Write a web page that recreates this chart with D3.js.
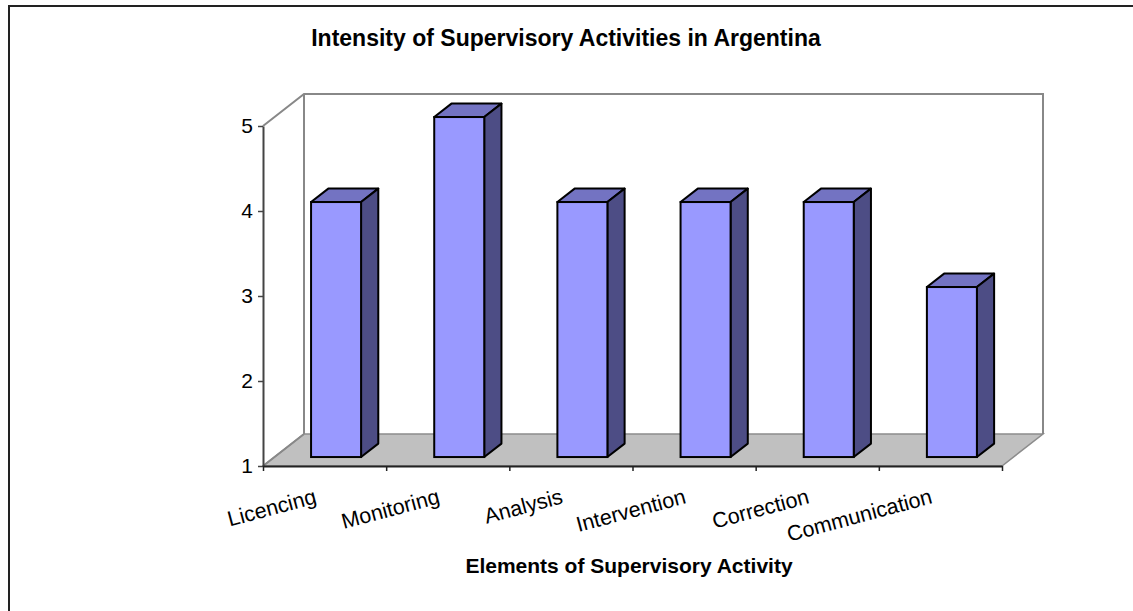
<!DOCTYPE html>
<html>
<head>
<meta charset="utf-8">
<script src="https://cdn.jsdelivr.net/npm/d3@7"></script>
<style>
  html, body { margin: 0; padding: 0; background: #fff; }
  svg { display: block; font-family: "Liberation Sans", Arial, sans-serif; }
</style>
</head>
<body>
<svg id="chart" width="1133" height="611"></svg>
<script>
// Chart data
const categories = ["Licencing", "Monitoring", "Analysis", "Intervention", "Correction", "Communication"];
const intensity = [4, 5, 4, 4, 4, 3];
const yTicks = [1, 2, 3, 4, 5];
const chartTitle = "Intensity of Supervisory Activities in Argentina";
const xTitle = "Elements of Supervisory Activity";

const svg = d3.select("#chart");

// Front plane of the 3-D plot and the depth offset to the back wall
const plotLeft = 263, plotRight = 1002, plotBottom = 466, plotTop = 126;
const DX = 41, DY = 32;
const f1 = 0.28, f2 = 0.70;   // bar front / back depth fractions

const x = d3.scaleBand().domain(categories).range([plotLeft, plotRight]).paddingInner(0).paddingOuter(0);
const xEdges = d3.scaleLinear().domain([0, categories.length]).range([plotLeft, plotRight]);
const y = d3.scaleLinear().domain([1, 5]).range([plotBottom, plotTop]);

// Outer chart border
svg.append("rect")
  .attr("x", 9).attr("y", 6).attr("width", 1150).attr("height", 640)
  .attr("fill", "none").attr("stroke", "#222").attr("stroke-width", 2);

// Title
svg.append("text")
  .attr("x", 566).attr("y", 46)
  .attr("text-anchor", "middle")
  .attr("font-weight", "bold").attr("font-size", 23)
  .text(chartTitle);

// Floor
const floorPts = [[plotLeft, plotBottom], [plotRight, plotBottom], [plotRight + DX, plotBottom - DY], [plotLeft + DX, plotBottom - DY]];
svg.append("polygon")
  .attr("points", floorPts.map(p => p.join(",")).join(" "))
  .attr("fill", "#c0c0c0").attr("stroke", "#8c8c8c").attr("stroke-width", 1.5);

// Back wall outline
const wall = d3.path();
wall.moveTo(plotLeft, y(5));
wall.lineTo(plotLeft + DX, y(5) - DY);
wall.lineTo(plotRight + DX, y(5) - DY);
wall.lineTo(plotRight + DX, plotBottom - DY);
wall.moveTo(plotLeft + DX, y(5) - DY);
wall.lineTo(plotLeft + DX, plotBottom - DY);
wall.moveTo(plotLeft, plotBottom);
wall.lineTo(plotLeft + DX, plotBottom - DY);
svg.append("path").attr("d", wall.toString())
  .attr("fill", "none").attr("stroke", "#888").attr("stroke-width", 2);

// Value axis
const yAxis = svg.append("g")
  .attr("transform", `translate(${plotLeft},0)`)
  .call(d3.axisLeft(y).tickValues(yTicks).tickFormat(d3.format("d")).tickSize(5).tickSizeOuter(0).tickPadding(5));
yAxis.select(".domain").attr("stroke", "#444").attr("stroke-width", 2);
yAxis.selectAll(".tick line").attr("stroke", "#444").attr("stroke-width", 1.5);
yAxis.selectAll(".tick text").attr("font-size", 21).attr("font-family", "Liberation Sans, Arial, sans-serif").attr("fill", "#000");

// Category axis (ticks on category boundaries)
const xAxis = svg.append("g")
  .attr("transform", `translate(0,${plotBottom})`)
  .call(d3.axisBottom(xEdges).tickValues(d3.range(categories.length + 1)).tickFormat("").tickSize(5).tickSizeOuter(0));
xAxis.select(".domain").attr("stroke", "#222").attr("stroke-width", 2);
xAxis.selectAll(".tick line").attr("stroke", "#222").attr("stroke-width", 1.5);

// Bars as 3-D columns
const barW = x.bandwidth() * 0.406;
const ddx = (f2 - f1) * DX, ddy = (f2 - f1) * DY;
const bars = svg.append("g").selectAll("g").data(categories).join("g");

bars.each(function(c, i) {
  const g = d3.select(this);
  const x0 = x(c) + x.bandwidth() / 2 - barW / 2 + f1 * DX;
  const x1 = x0 + barW;
  const yT = y(intensity[i]) - f1 * DY;
  const yB = y(1) - f1 * DY;
  const poly = pts => pts.map(p => p.join(",")).join(" ");
  // top face
  g.append("polygon")
    .attr("points", poly([[x0, yT], [x1, yT], [x1 + ddx, yT - ddy], [x0 + ddx, yT - ddy]]))
    .attr("fill", "#7373c2").attr("stroke", "#000").attr("stroke-width", 2).attr("stroke-linejoin", "round");
  // side face
  g.append("polygon")
    .attr("points", poly([[x1, yT], [x1 + ddx, yT - ddy], [x1 + ddx, yB - ddy], [x1, yB]]))
    .attr("fill", "#4d4d85").attr("stroke", "#000").attr("stroke-width", 2).attr("stroke-linejoin", "round");
  // front face
  g.append("rect")
    .attr("x", x0).attr("y", yT).attr("width", barW).attr("height", yB - yT)
    .attr("fill", "#9999ff").attr("stroke", "#000").attr("stroke-width", 2);
});

// Category labels, slanted
svg.append("g").selectAll("text").data(categories).join("text")
  .attr("text-anchor", "end")
  .attr("font-size", 21.5)
  .attr("transform", c => `translate(${x(c) + x.bandwidth() / 2 - 7},503) rotate(-15)`)
  .text(c => c);

// Category axis title
svg.append("text")
  .attr("x", 629).attr("y", 573)
  .attr("text-anchor", "middle")
  .attr("font-weight", "bold").attr("font-size", 21)
  .text(xTitle);
</script>
</body>
</html>
